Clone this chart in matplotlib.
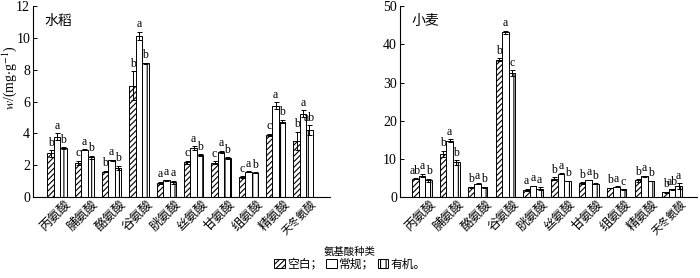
import numpy as np
import matplotlib
matplotlib.use('Agg')
import matplotlib.pyplot as plt
import matplotlib.transforms as mtransforms
from matplotlib.patches import Patch

plt.rcParams['font.family'] = ['Liberation Serif', 'Noto Sans CJK SC']
plt.rcParams['mathtext.fontset'] = 'stix'
plt.rcParams['hatch.linewidth'] = 0.8

amino = ['丙氨酸', '脯氨酸', '酪氨酸', '谷氨酸', '胱氨酸', '丝氨酸', '甘氨酸', '组氨酸', '精氨酸', '天冬氨酸']

# rice (水稻)
rice_blank = [2.75, 2.15, 1.6, 7.0, 0.9, 2.19, 2.15, 1.25, 3.92, 3.54]
rice_blank_err = [0.2, 0.12, 0.05, 0.9, 0.05, 0.1, 0.1, 0.05, 0.05, 0.55]
rice_conv = [3.8, 2.98, 2.3, 10.12, 1.06, 3.08, 2.85, 1.6, 5.75, 5.25]
rice_conv_err = [0.2, 0.03, 0.05, 0.25, 0.03, 0.1, 0.05, 0.03, 0.2, 0.2]
rice_org = [3.08, 2.5, 1.83, 8.4, 0.94, 2.65, 2.46, 1.52, 4.75, 4.2]
rice_org_err = [0.05, 0.1, 0.15, 0.05, 0.1, 0.05, 0.05, 0.03, 0.1, 0.3]
rice_sig = [['b', 'a', 'b'], ['c', 'a', 'b'], ['b', 'a', 'b'], ['b', 'a', 'b'], ['a', 'a', 'a'],
            ['c', 'a', 'b'], ['c', 'a', 'b'], ['c', 'a', 'b'], ['c', 'a', 'b'], ['b', 'a', 'ab']]

# wheat (小麦)
wheat_blank = [4.8, 11.3, 2.6, 35.95, 1.9, 4.8, 3.7, 2.4, 4.35, 1.3]
wheat_blank_err = [0.15, 0.8, 0.1, 0.4, 0.3, 0.4, 0.2, 0.1, 0.3, 0.1]
wheat_conv = [5.65, 14.8, 3.5, 43.1, 2.9, 6.1, 4.5, 2.7, 5.4, 2.0]
wheat_conv_err = [0.4, 0.4, 0.1, 0.5, 0.1, 0.1, 0.1, 0.1, 0.2, 0.1]
wheat_org = [4.35, 9.1, 2.6, 32.4, 2.2, 4.2, 3.5, 2.0, 4.2, 2.8]
wheat_org_err = [0.4, 0.6, 0.1, 0.8, 0.4, 0.1, 0.1, 0.1, 0.1, 0.8]
wheat_sig = [['ab', 'a', 'b'], ['b', 'a', 'b'], ['b', 'a', 'b'], ['b', 'a', 'c'], ['a', 'a', 'a'],
             ['b', 'a', 'b'], ['b', 'a', 'b'], ['b', 'a', 'c'], ['b', 'a', 'b'], ['b', 'ab', 'a']]

fig = plt.figure(figsize=(7, 2.78), dpi=100)
ax1 = fig.add_axes([0.047, 0.291, 0.425, 0.687])
ax2 = fig.add_axes([0.571, 0.291, 0.425, 0.687])

w = 0.235
hatches = ['//////', '', '|||']


def panel(ax, series, errs, sig, ymax, step, title, lo, hi, pad):
    x = np.arange(len(amino))
    for k, (vals, err) in enumerate(zip(series, errs)):
        xs = x + (k - 1) * w
        ax.bar(xs, vals, w, color='white', edgecolor='black', linewidth=0.7,
               hatch=hatches[k], zorder=2)
        ax.errorbar(xs, vals, yerr=err, fmt='none', ecolor='black',
                    elinewidth=0.7, capsize=1.8, capthick=0.7, zorder=3)
        for i in range(len(amino)):
            ax.text(xs[i], vals[i] + err[i] + pad, sig[i][k], ha='center',
                    va='bottom', fontsize=8.5)
    ax.set_xlim(lo, hi)
    ax.set_ylim(0, ymax)
    ax.set_yticks(np.arange(0, ymax + 0.1, step))
    ax.tick_params(axis='y', direction='in', length=3, width=0.7, labelsize=10, pad=2)
    ax.tick_params(axis='x', length=0, pad=1)
    ax.set_xticks(x)
    ax.set_xticklabels(amino, rotation=45, ha='right', rotation_mode='anchor',
                       fontsize=9)
    off = mtransforms.ScaledTranslation(0.08, 0, fig.dpi_scale_trans)
    for lab in ax.get_xticklabels():
        lab.set_transform(lab.get_transform() + off)
        if len(lab.get_text()) > 3:
            lab.set_fontsize(7.8)
    for s in ['top', 'right']:
        ax.spines[s].set_visible(False)
    for s in ['left', 'bottom']:
        ax.spines[s].set_linewidth(0.8)
    ax.text(0.04, 0.92, title, transform=ax.transAxes, fontsize=10, va='center')


panel(ax1, [rice_blank, rice_conv, rice_org],
      [rice_blank_err, rice_conv_err, rice_org_err], rice_sig, 12, 2, '水稻',
      -0.88, 10.0, 0.1)
panel(ax2, [wheat_blank, wheat_conv, wheat_org],
      [wheat_blank_err, wheat_conv_err, wheat_org_err], wheat_sig, 50, 10, '小麦',
      -0.8, 9.9, 0.4)

fig.text(0.013, 1 - 78 / 278, r'$w$/(mg$\cdot$g$^{-1}$)', rotation=90,
         ha='center', va='center', fontsize=10)

fig.text(0.5, 0.094, '氨基酸种类', ha='center', va='center', fontsize=7.5)
handles = [Patch(facecolor='white', edgecolor='black', hatch=h, linewidth=0.7) for h in hatches]
fig.legend(handles, ['空白；', '常规；', '有机。'], ncol=3, loc='center',
           bbox_to_anchor=(0.5, 0.048), frameon=False, fontsize=8.5,
           handlelength=0.9, handleheight=0.9, handletextpad=0.2, columnspacing=0.3,
           borderpad=0)

fig.savefig('out.png', dpi=100)
